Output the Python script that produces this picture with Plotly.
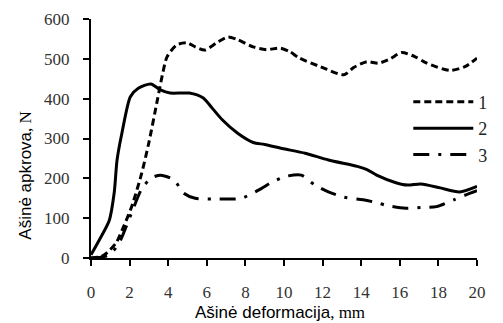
import plotly.graph_objects as go

# Series 1 (dashed)
x1 = [0, 0.5, 0.8, 1.3, 1.7, 2.1, 2.6, 3.0, 3.44, 3.7, 3.94, 4.44, 5.0, 5.4, 5.9, 6.5, 7.1, 7.6, 8.4,
      9.1, 9.8, 10.3, 10.8, 11.9, 13.1, 13.6, 14.3, 14.9, 15.5, 16.1, 16.8, 17.4, 18.6, 19.4, 20]
y1 = [0, 3, 12, 38, 80, 128, 208, 290, 397, 460, 505, 535, 540, 530, 522, 540, 555, 548, 530,
      523, 527, 518, 502, 480, 460, 478, 493, 489, 500, 516, 505, 489, 471, 481, 502]

# Series 2 (solid)
x2 = [0, 0.45, 0.95, 1.2, 1.35, 1.6, 2.04, 2.45, 3.1, 3.6, 4.1, 5.1, 5.8, 6.3, 6.8, 7.6, 8.4, 9.0, 9.9,
      11.1, 12.3, 13.8, 14.3, 14.8, 15.8, 16.4, 17.1, 18.1, 19.1, 20]
y2 = [8, 47, 95, 163, 246, 313, 405, 426, 437, 422, 414, 414, 402, 375, 347, 313, 290, 285, 275,
      263, 246, 230, 222, 208, 189, 183, 186, 176, 166, 180]

# Series 3 (dash-dot)
x3 = [0, 0.5, 0.95, 1.45, 2.1, 2.6, 3.1, 3.6, 4.3, 4.8, 5.4, 6.3, 7.1, 7.8, 8.7, 9.4, 10.1, 10.9,
      11.6, 12.3, 13.1, 14.1, 14.8, 15.4, 16.3, 17.1, 17.9, 18.8, 19.4, 20]
y3 = [0, 2, 8, 37, 113, 171, 200, 208, 196, 163, 150, 148, 148, 150, 171, 191, 205, 208,
      183, 166, 153, 146, 139, 131, 125, 127, 129, 146, 158, 169]

names = ["1", "2", "3"]
x_ticks = [0, 2, 4, 6, 8, 10, 12, 14, 16, 18, 20]
y_ticks = [0, 100, 200, 300, 400, 500, 600]

fig = go.Figure()
fig.add_trace(go.Scatter(x=x1, y=y1, name=names[0], mode="lines",
                         line=dict(color="black", width=3, dash="7px,4px", shape="spline", smoothing=0.7)))
fig.add_trace(go.Scatter(x=x2, y=y2, name=names[1], mode="lines",
                         line=dict(color="black", width=3, shape="spline", smoothing=0.7)))
fig.add_trace(go.Scatter(x=x3, y=y3, name=names[2], mode="lines",
                         line=dict(color="black", width=3, dash="16px,9px,3px,9px", shape="spline", smoothing=0.7)))

serif = "Liberation Serif"
sans = "Liberation Sans"

fig.update_layout(
    width=503, height=323,
    margin=dict(l=91, r=11, t=19, b=65),
    paper_bgcolor="white", plot_bgcolor="white",
    showlegend=True,
    legend=dict(x=0.822, y=0.73, xanchor="left", yanchor="top",
                font=dict(family=serif, size=18, color="#222"),
                bgcolor="rgba(0,0,0,0)", itemwidth=60, tracegroupgap=0),
    xaxis=dict(range=[0, 20], tickvals=x_ticks, showgrid=False, zeroline=False,
               showline=True, linecolor="black", linewidth=2,
               ticks="outside", ticklen=6, tickwidth=1.5, tickcolor="black",
               tickfont=dict(family=serif, size=17, color="#333"), ticklabelstandoff=12),
    yaxis=dict(range=[0, 600], tickvals=y_ticks, showgrid=False, zeroline=False,
               showline=True, linecolor="black", linewidth=2,
               ticks="outside", ticklen=6, tickwidth=1.5, tickcolor="black",
               tickfont=dict(family=serif, size=17, color="#333"), ticklabelstandoff=10),
    annotations=[
        dict(text='Ašinė apkrova<span style="font-family:Liberation Serif">, N</span>',
             xref="paper", yref="paper", x=-0.172, y=0.347, xanchor="center", yanchor="middle",
             textangle=-90, showarrow=False, font=dict(family=sans, size=17, color="black")),
        dict(text='Ašinė deformacija<span style="font-family:Liberation Serif">, mm</span>',
             xref="paper", yref="paper", x=0.49, y=-0.226, xanchor="center", yanchor="middle",
             showarrow=False, font=dict(family=sans, size=17, color="black")),
    ],
)

fig.write_html("out.html")
